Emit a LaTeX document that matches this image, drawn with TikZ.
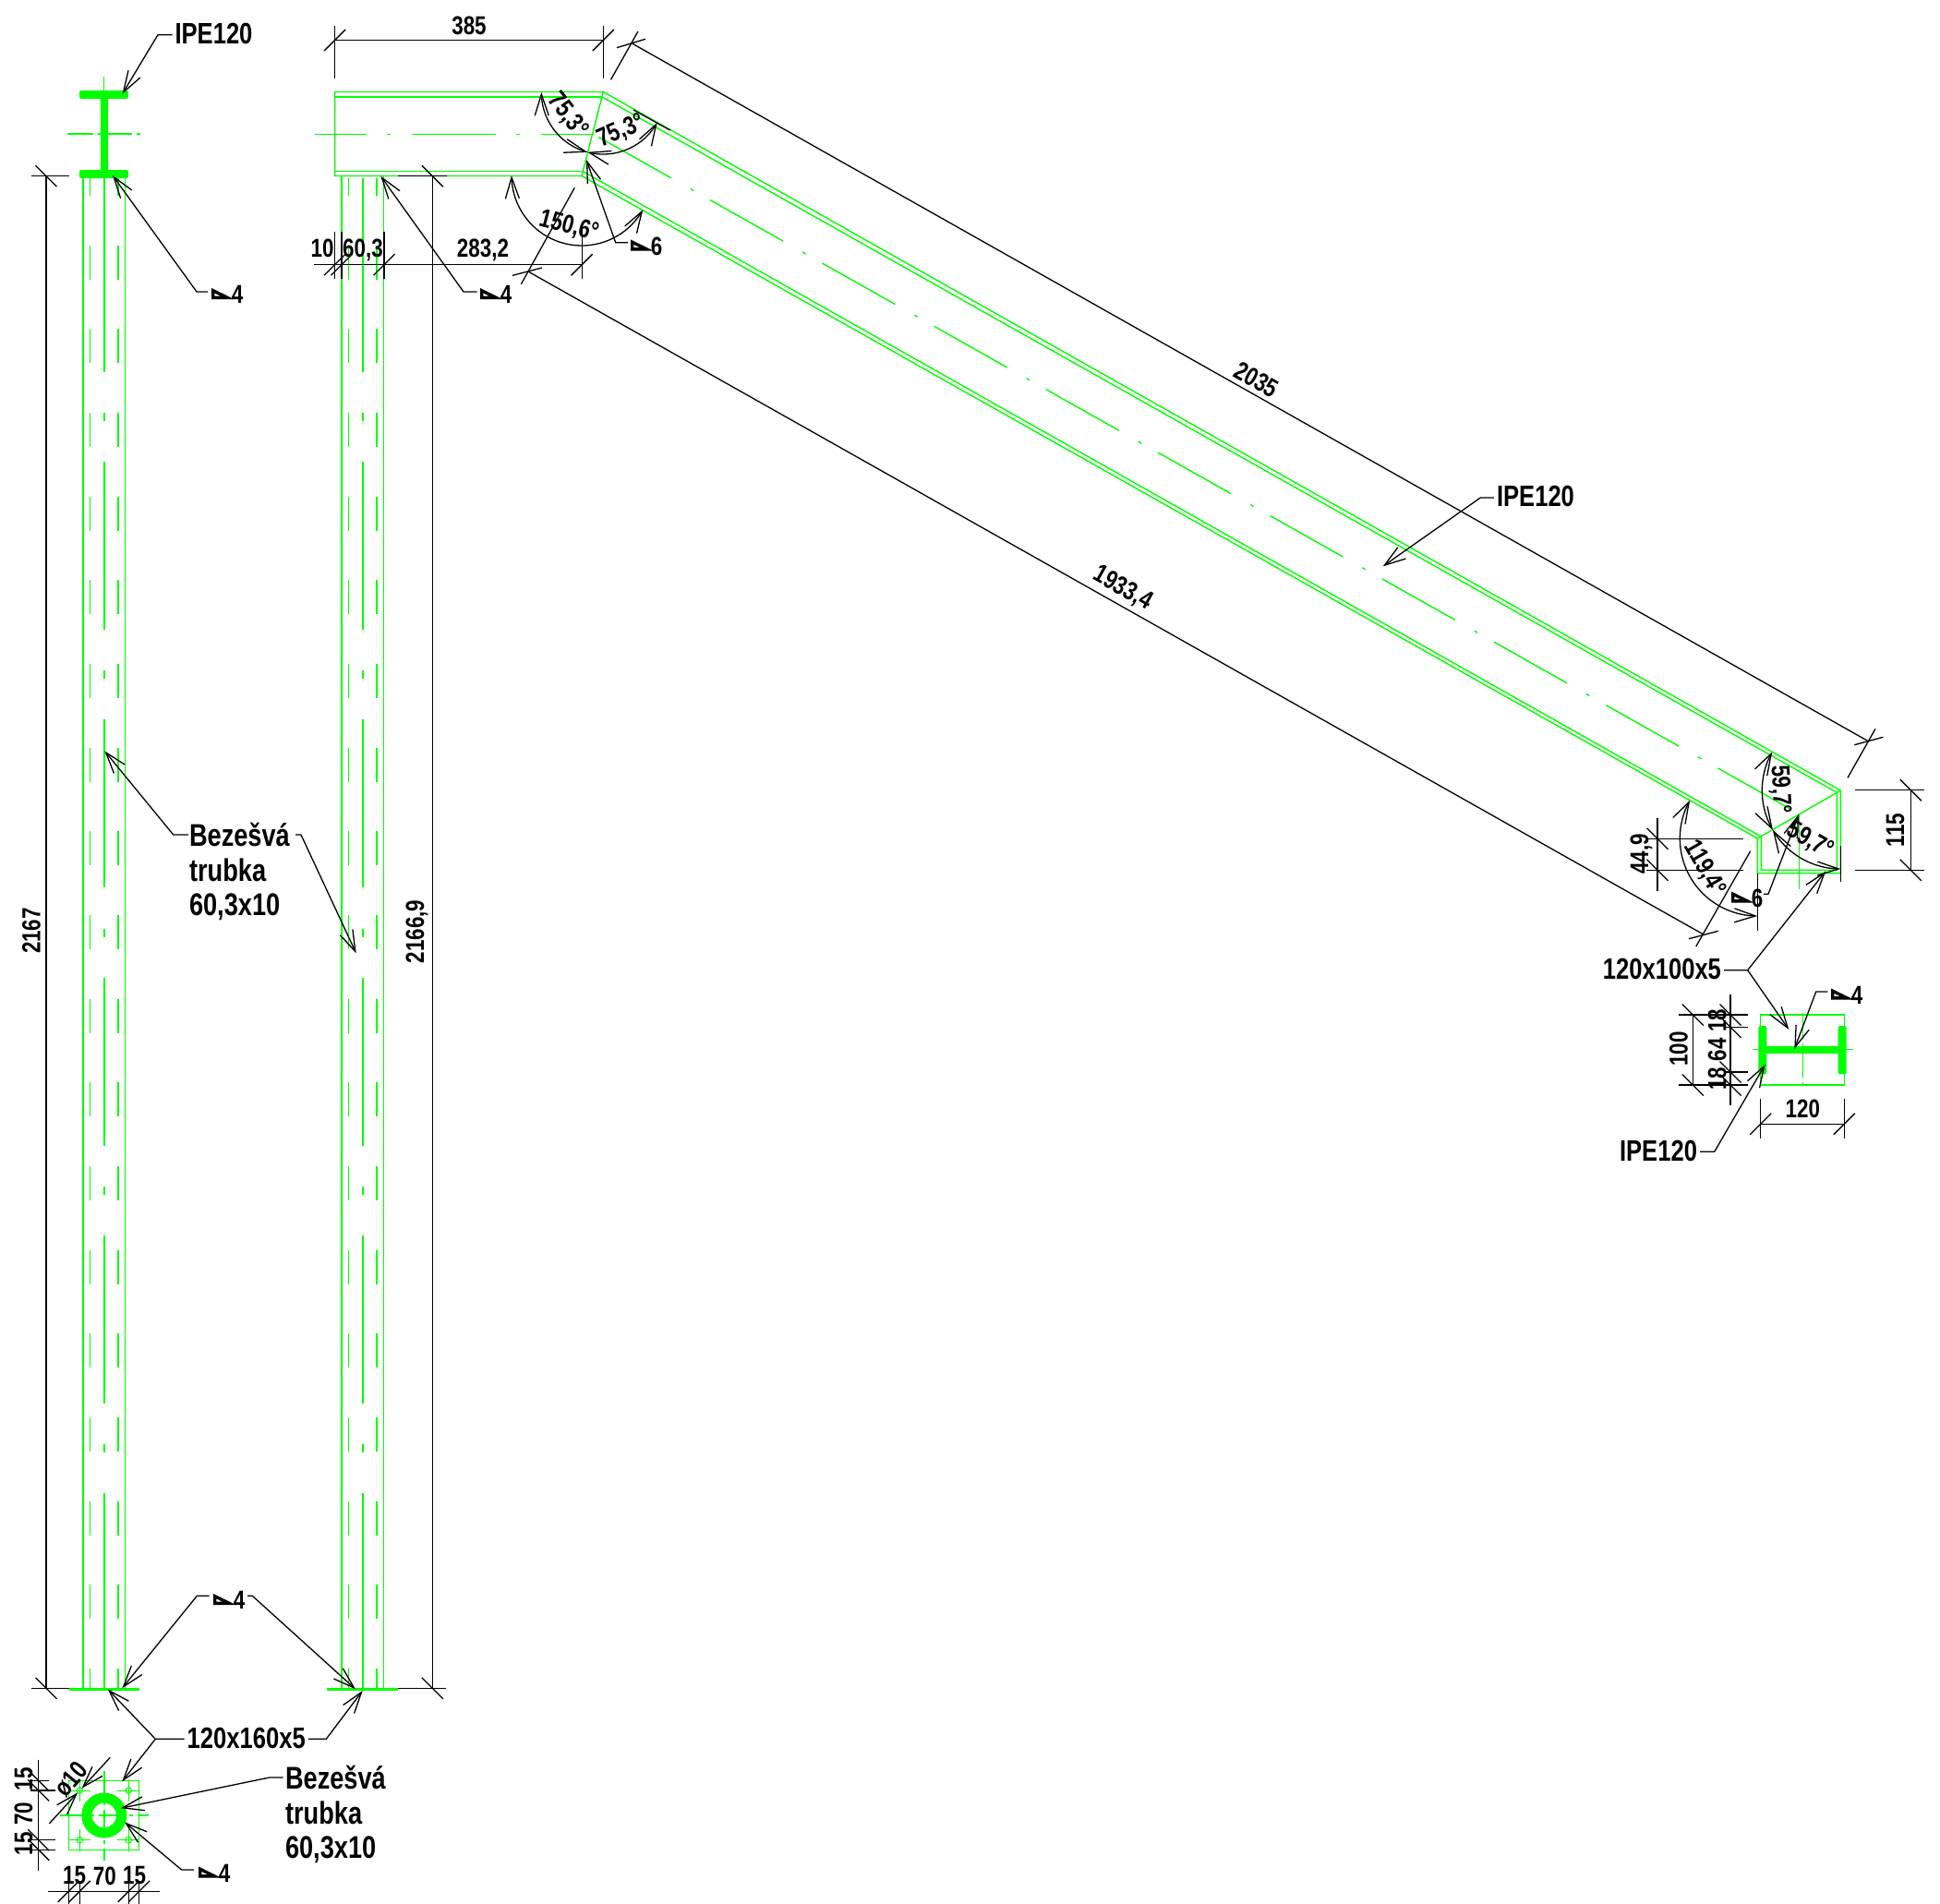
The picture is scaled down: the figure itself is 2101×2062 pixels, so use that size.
\documentclass[tikz,border=0pt]{standalone}
\usepackage{fontspec}
\setmainfont[FakeStretch=.82,BoldFeatures={FakeStretch=.8}]{Liberation Sans}
\usetikzlibrary{arrows.meta}
\newcommand{\tickH}[1]{\draw[dimline] (#1) ++(-11.5,11.5) -- ++(23,-23);}
\newcommand{\tickV}[1]{\draw[dimline] (#1) ++(-11.5,-11.5) -- ++(23,23);}
\newcommand{\anglearc}[4]{\draw[dimline,<->] plot[domain=#3:#4,samples=40] ({\Cx+#2*cos(\x)},{\Cy+#2*sin(\x)});}
\newcommand{\weldmark}[3]{\draw[weldline] (#2) ++(1.7,3.8) -- ++(0,-7.6) -- ++(15.5,7.6) -- cycle;
\path (#2) ++(28,0) node[dimlabel] (#1) {#3};}
\newcommand{\tubelines}[2]{%
\draw[steelline] ({#1-22.85},#2) -- ({#1-22.85},1829);
\draw[steelline] ({#1+22.85},#2) -- ({#1+22.85},1829);
\draw[steelline,inner dash] ({#1-15.15},193) -- ({#1-15.15},1829);
\draw[steelline,inner dash] ({#1+15.15},193) -- ({#1+15.15},1829);
\draw[steelline] (#1,193) -- (#1,403);
\draw[steelline,tube dash] (#1,447) -- (#1,1619);
\draw[steelline] (#1,1619) -- (#1,1829);}

\begin{document}
\begin{tikzpicture}
[x=.5pt,y=-.5pt,>={Straight Barb[length=11.5pt,width=7.5pt]},
steelline/.style={green,line width=.7pt},
steel/.style={fill=green,draw=none,rounded corners=1pt},
dimline/.style={black,line width=.65pt},
weldline/.style={black,line width=1.7pt,miter limit=10},
inner dash/.style={dash pattern=on 18.5pt off 26.83pt,dash phase=9pt},
tube dash/.style={dash pattern=on 4.5pt off 22pt on 91pt off 22.15pt},
beam dash/.style={dash pattern=on 45.3pt off 12pt on 2pt off 10.3pt},
cross dash/.style={dash pattern=on 14pt off 2.5pt on 2pt off 2.5pt},
dimlabel/.style={inner sep=0pt,text height=10pt,text depth=0pt,font=\fontsize{14}{15}\selectfont\bfseries},
leadlabel/.style={inner sep=0pt,outer sep=1.5pt,text height=11.5pt,text depth=0pt,font=\fontsize{16}{18.7}\selectfont\bfseries},
tubelabel/.style={leadlabel,anchor=west,align=left,font=\fontsize{17}{18.7}\selectfont\bfseries}]
\useasboundingbox (0,0) rectangle (2101,2062);
%% section of the left post
\fill[steel] (86,98) rectangle (139,107);
\fill[steel] (86,184) rectangle (139,193);
\fill[green] (108.5,105) rectangle (116.5,186);
\draw[steelline,cross dash] (73,145) -- (156,145);
\draw[steelline] (112.5,83) -- (112.5,98);
%% posts
\tubelines{112.85}{193}
\tubelines{392.9}{190.7}
\fill[green] (75,1827.8) rectangle (150.7,1831);
\fill[green] (354.3,1827.8) rectangle (431,1831);
%% beam, flat part
\draw[steelline] (362.6,99.5) -- (653.3,99.5) -- (630,190.5) -- (362.6,190.5) -- cycle;
\draw[steelline] (362.6,105) -- (652.1,105);
\draw[steelline] (362.6,185.7) -- (631.4,185.7);
\draw[steelline,dash pattern=on 45.5pt off 11pt on 2pt off 11.5pt,dash phase=17.5pt] (340.6,145.5) -- (643,145.5);
%% beam, sloping part
\draw[steelline] (653.3,99.5) -- (1993.3,856) -- (1993.3,945.7) -- (1903.3,945.7) -- (1903.3,908) -- (630,190.5);
\draw[steelline] (652.1,105) -- (1989.3,858.3) -- (1989.3,942.3) -- (1907.3,942.3) -- (1907.3,906) -- (631.4,185.7);
\draw[steelline] (1993.3,856) -- (1903.3,908);
\draw[steelline,beam dash] (648,148.3) -- (1948.7,881.7);
\draw[steelline] (1948.7,881.7) -- (1948.7,963);
%% section of the beam end
\draw[steelline] (1906.7,1099) rectangle (1997.3,1175);
\fill[steel] (1904.3,1111) rectangle (1913.3,1163.3);
\fill[steel] (1990.7,1111) rectangle (1999.7,1163.3);
\fill[green] (1910,1133.3) rectangle (1994,1140.7);
\draw[steelline,cross dash] (1898,1136.7) -- (2007,1136.7);
\draw[steelline,cross dash] (1952.3,1096.7) -- (1952.3,1180);
%% base plate
\draw[steelline] (74.3,1928.3) rectangle (150.7,2003.3);
\fill[green,even odd rule] (112.8,1966) circle[radius=12.25pt] circle[radius=6.65pt];
\foreach \hx/\hy in {86.3/1939,139.3/1939,86.3/1992.7,139.3/1992.7}{
\draw[steelline,line width=.5pt] (\hx,\hy) circle[radius=1.65pt];
\draw[steelline,line width=.5pt] ({\hx-12},\hy) -- ({\hx+12},\hy);
\draw[steelline,line width=.5pt] (\hx,{\hy-12}) -- (\hx,{\hy+12});
}
\draw[steelline,cross dash] (65,1966) -- (161,1966);
\draw[steelline,cross dash] (112.8,1918) -- (112.8,2015);
%
%% dimensions 2167, 2166,9
\draw[dimline] (34,190.7) -- (75,190.7);
\draw[dimline] (34,1828.3) -- (75,1828.3);
\draw[dimline] (50,190.7) -- (50,1828.3);
\tickV{50,190.7}
\tickV{50,1828.3}
\node[dimlabel,rotate=90] (d2167) at (33.5,1008) {2167};
\draw[dimline] (430.5,190.7) -- (484,190.7);
\draw[dimline] (430.7,1828.3) -- (483,1828.3);
\draw[dimline] (468.3,190.7) -- (468.3,1828.3);
\tickV{468.3,190.7}
\tickV{468.3,1828.3}
\node[dimlabel,rotate=90] (d2166) at (449,1009) {2166,9};
%% dimensions on top of the beam
\draw[dimline] (362.6,28) -- (362.6,85);
\draw[dimline] (653.4,28) -- (653.4,85);
\draw[dimline] (362.6,43.5) -- (653.4,43.5);
\tickH{362.6,43.5}
\tickH{653.4,43.5}
\node[dimlabel] (d385) at (508,27) {385};
\draw[dimline] (339.6,286.7) -- (630.2,286.7);
\foreach \ex in {362.6,370,416}{
\draw[dimline] (\ex,251) -- (\ex,301.7);
\tickH{\ex,286.7}
}
\draw[dimline] (630.2,248) -- (630.2,301.7);
\tickH{630.2,286.7}
\node[dimlabel] (d10) at (349,268) {10};
\node[dimlabel] (d60) at (393,268) {60,3};
\node[dimlabel] (d283) at (523,268) {283,2};
%% sloping dimensions
\draw[dimline] (661.5,86.3) -- (691,34);
\draw[dimline] (668,51.7) -- (699,42.3);
\draw[dimline] (685,47.3) -- (2023.3,802.7);
\draw[dimline] (2001,842.3) -- (2031,789.3);
\draw[dimline] (2008.3,806.7) -- (2039.3,798.3);
\node[dimlabel,rotate=-29.4] (d2035) at (1361,411) {2035};
\draw[dimline] (564.4,307.7) -- (622.3,203.3);
\draw[dimline] (555,298.3) -- (587,290);
\draw[dimline] (572.5,294.3) -- (1844.3,1011.7);
\draw[dimline] (1836.7,1025) -- (1895.7,921.7);
\draw[dimline] (1829,1016.7) -- (1860.7,1008.3);
\node[dimlabel,rotate=-29.4] (d1933) at (1217,635) {1933,4};
%% dimensions at the beam end
\draw[dimline] (2008.7,855.7) -- (2084,855.7);
\draw[dimline] (2008.7,942.3) -- (2084,942.3);
\draw[dimline] (2069.3,855.7) -- (2069.3,942.3);
\tickV{2069.3,855.7}
\tickV{2069.3,942.3}
\node[dimlabel,rotate=90] (d115) at (2052,899) {115};
\draw[dimline] (1783,908.3) -- (1888,908.3);
\draw[dimline] (1783,942.3) -- (1888,942.3);
\draw[dimline] (1795,885.7) -- (1795,965);
\tickV{1795,908.3}
\tickV{1795,942.3}
\node[dimlabel,rotate=90] (d449) at (1775,925) {44,9};
%% angles
\def\Cx{653.3}\def\Cy{100}
\anglearc{}{67}{180}{104.7}
\anglearc{}{67}{104.7}{29.4}
\draw[dimline] (686,119) -- (725.7,141);
\node[dimlabel,rotate=-52] (a753l) at (616.7,123.3) {75,3°};
\node[dimlabel,rotate=23] (a753r) at (671.7,140) {75,3°};
\def\Cx{630}\def\Cy{190}
\anglearc{}{76}{180}{29.4}
\node[dimlabel,rotate=-14.7] (a1506) at (616.7,243) {150,6°};
\def\Cx{1993.3}\def\Cy{856}
\anglearc{}{85}{209.4}{149.7}
\anglearc{}{85}{149.7}{90}
\draw[dimline] (1993.3,916) -- (1993.3,955);
\node[dimlabel,rotate=-87] (a597u) at (1930,855) {59,7°};
\node[dimlabel,rotate=-30] (a597l) at (1961.7,908.3) {59,7°};
\def\Cx{1903.3}\def\Cy{908}
\anglearc{}{84}{209.4}{90}
\draw[dimline] (1903.3,946) -- (1903.3,1008);
\node[dimlabel,rotate=-60] (a1194) at (1848,939.3) {119,4°};
%% dimensions of the section
\draw[dimline] (1906.7,1190) -- (1906.7,1232.7);
\draw[dimline] (1997.3,1190) -- (1997.3,1232.7);
\draw[dimline] (1906.7,1217.3) -- (1997.3,1217.3);
\tickH{1906.7,1217.3}
\tickH{1997.3,1217.3}
\node[dimlabel] (d120) at (1952.3,1200.7) {120};
\draw[dimline] (1818.3,1099) -- (1892.7,1099);
\draw[dimline] (1818.3,1175) -- (1892.7,1175);
\draw[dimline] (1866.7,1112.3) -- (1892.7,1112.3);
\draw[dimline] (1866.7,1161) -- (1892.7,1161);
\draw[dimline] (1833.3,1099) -- (1833.3,1175);
\tickV{1833.3,1099}
\tickV{1833.3,1175}
\node[dimlabel,rotate=90] (d100) at (1817.7,1136) {100};
\draw[dimline] (1874,1076.7) -- (1874,1196.7);
\foreach \ey in {1099,1112.3,1161,1175}{\tickV{1874,\ey}}
\node[dimlabel,rotate=90] (d18a) at (1859.3,1105) {18};
\node[dimlabel,rotate=90] (d64) at (1859.3,1136.7) {64};
\node[dimlabel,rotate=90] (d18b) at (1859.3,1168.3) {18};
%% dimensions of the plate
\draw[dimline] (33,1928.3) -- (53,1928.3);
\draw[dimline] (33,1939) -- (60,1939);
\draw[dimline] (33,1992.7) -- (60,1992.7);
\draw[dimline] (33,2003.3) -- (60,2003.3);
\draw[dimline] (41.7,1905.7) -- (41.7,2026);
\foreach \ey in {1928.3,1939,1992.7,2003.3}{\tickV{41.7,\ey}}
\node[dimlabel,rotate=90] (p15a) at (25,1926.7) {15};
\node[dimlabel,rotate=90] (p70a) at (25,1964) {70};
\node[dimlabel,rotate=90] (p15b) at (25,1996.7) {15};
\draw[dimline] (52.3,2048.3) -- (173.3,2048.3);
\foreach \ex in {74.3,86.3,139.3,150.7}{
\draw[dimline] (\ex,2037) -- (\ex,2062);
\tickH{\ex,2048.3}
}
\node[dimlabel] (p15c) at (80.7,2030.7) {15};
\node[dimlabel] (p70b) at (113.3,2031) {70};
\node[dimlabel] (p15d) at (145.7,2030.7) {15};
\draw[dimline,->] (53.3,1975) -- (84.1,1941.3);
\draw[dimline,->] (119.3,1903.3) -- (88.5,1936.7);
\node[dimlabel,rotate=50] (phi10) at (76.7,1926.7) {ø10};
%
%% labels
\node[leadlabel,anchor=west] (ipeA) at (186.5,36) {IPE120};
\node[leadlabel,anchor=west] (ipeB) at (1618,536.7) {IPE120};
\node[leadlabel,anchor=east] (ipeC) at (1841,1246) {IPE120};
\node[leadlabel] (plateA) at (266.7,1881.7) {120x160x5};
\node[leadlabel,anchor=east] (plateB) at (1867,1049.3) {120x100x5};
\node[tubelabel] (tubeA) at (202,980) {Bezešvá\\trubka\\60,3x10};
\node[tubelabel] (tubeB) at (306,2001) {Bezešvá\\trubka\\60,3x10};
%% edges
\coordinate (tipA) at (132.5,101.7);
\coordinate (tipB) at (1497.7,613.3);
\coordinate (tipC) at (1911.7,1152.7);
\draw[dimline,<-] (tipA) -- (171,37.7) -- (ipeA.west |- 0,37.7);
\draw[dimline,<-] (tipB) -- (1603.3,539) -- (ipeB.west |- 0,539);
\draw[dimline,<-] (tipC) -- (1856.7,1247.3) -- (ipeC.east |- 0,1247.3);
\coordinate (tipD) at (116.7,1829.3);
\coordinate (tipE) at (132.3,1929.3);
\coordinate (tipF) at (392.7,1831);
\coordinate (tipG) at (1977.3,943.3);
\coordinate (tipH) at (1937.3,1115);
\coordinate (forkA) at (168.3,1883.3);
\coordinate (forkB) at (1892.7,1050.7);
\draw[dimline,<-] (tipD) -- (forkA) -- (plateA.west |- 0,1883.3);
\draw[dimline,<-] (tipE) -- (forkA);
\draw[dimline,<-] (tipF) -- (353.3,1883.3) -- (plateA.east |- 0,1883.3);
\draw[dimline,<-] (tipG) -- (forkB) -- (plateB.east |- 0,1050.7);
\draw[dimline,<-] (tipH) -- (forkB);
\coordinate (tipI) at (113.3,813.3);
\coordinate (tipJ) at (385.7,1032.3);
\coordinate (tipK) at (130.7,1958.3);
\draw[dimline,<-] (tipI) -- (187.7,904) -- (204,904);
\draw[dimline,<-] (tipJ) -- (326,904) -- (320,904);
\draw[dimline,<-] (tipK) -- (291.7,1925) -- (306.7,1925);
%% welds
\weldmark{weldA}{229,318.5}{4}
\weldmark{weldB}{520,318.5}{4}
\weldmark{weldC}{683,266}{6}
\weldmark{weldD}{1875,972}{6}
\weldmark{weldE}{231,1732.5}{4}
\weldmark{weldF}{215,2028}{4}
\weldmark{weldG}{1983,1077}{4}
\coordinate (tipL) at (122,190);
\coordinate (tipM) at (412.3,190.7);
\coordinate (tipN) at (635,173);
\coordinate (tipO) at (1948.3,881.7);
\coordinate (tipP) at (132.3,1828.3);
\coordinate (tipQ) at (385,1829.3);
\coordinate (tipR) at (135,1973.3);
\coordinate (tipS) at (1943.3,1136);
\draw[dimline,<-] (tipL) -- (213,316) -- (225,316);
\draw[dimline,<-] (tipM) -- (502,316) -- (516.6,316);
\draw[dimline,<-] (tipN) -- (666.7,262.7) -- (680,262.7);
\draw[dimline,<-] (tipO) -- (1915,968.3) -- (1910,968.3);
\draw[dimline,<-] (tipP) -- (213.3,1728.3) -- (226.7,1728.3);
\draw[dimline,<-] (tipQ) -- (273.3,1728.3) -- (268,1728.3);
\draw[dimline,<-] (tipR) -- (196.7,2025) -- (210,2025);
\draw[dimline,<-] (tipS) -- (1966.7,1074) -- (1979.3,1074);
\end{tikzpicture}
\end{document}
